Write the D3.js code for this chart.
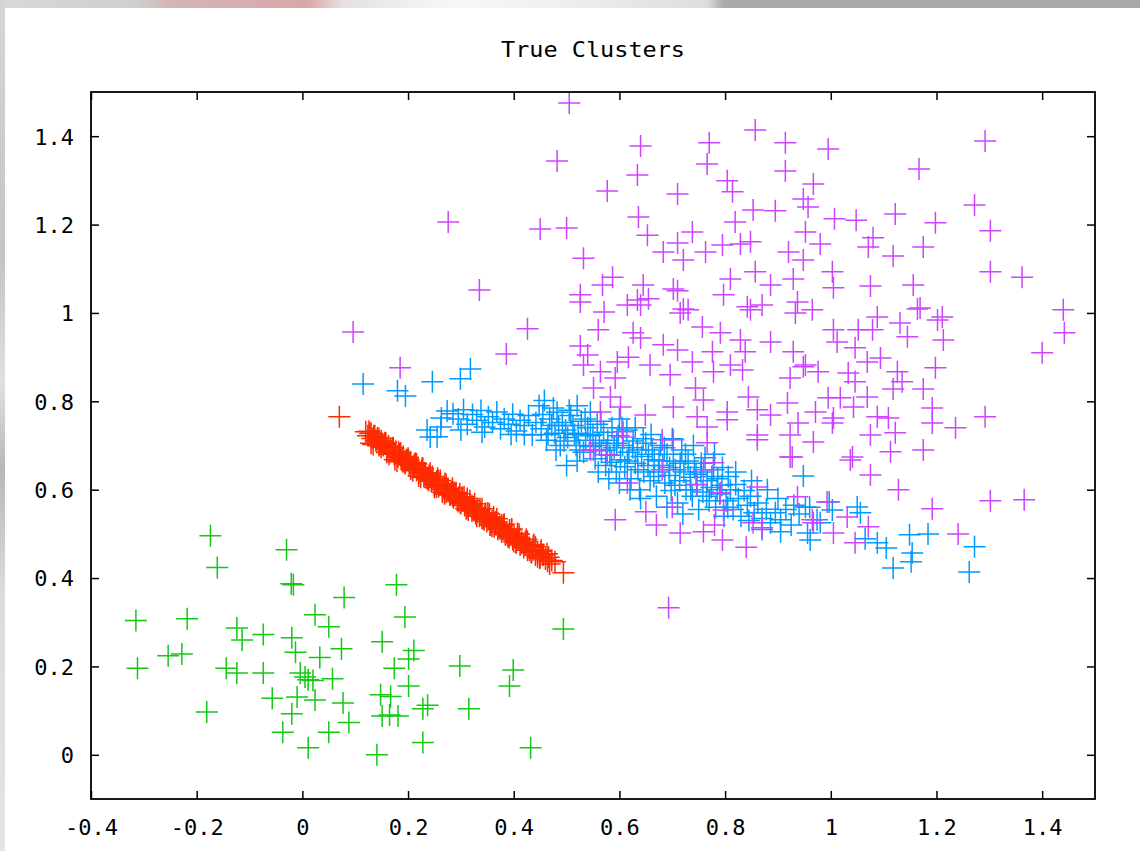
<!DOCTYPE html>
<html><head><meta charset="utf-8">
<script src="https://cdn.jsdelivr.net/npm/d3@7"></script>
<style>body{margin:0;background:#fff;overflow:hidden} svg{display:block}</style>
</head><body>
<svg id="c" width="1140" height="851"></svg>
<script>
const titleText = "True Clusters";
const xTicks = [-0.4,-0.2,0,0.2,0.4,0.6,0.8,1,1.2,1.4];
const yTicks = [0,0.2,0.4,0.6,0.8,1,1.2,1.4];
const clusterColors = ["#14c814","#ff2a00","#0099ff","#cc44ff"];

// cluster 1 (green)
const cluster1 = [[-0.174,0.496],[-0.030,0.464],[-0.161,0.424],[-0.021,0.387],[-0.017,0.385],[0.178,0.385],[0.079,0.356],[-0.315,0.304],[-0.218,0.308],[0.024,0.317],[0.050,0.290],[0.194,0.312],[-0.124,0.287],[-0.114,0.260],[-0.074,0.272],[-0.020,0.265],[-0.013,0.232],[0.033,0.220],[0.074,0.240],[0.151,0.256],[0.211,0.236],[0.201,0.217],[-0.254,0.224],[-0.228,0.228],[-0.312,0.196],[-0.144,0.196],[-0.124,0.185],[-0.074,0.185],[-0.004,0.185],[0.011,0.170],[0.057,0.172],[0.174,0.196],[0.298,0.201],[0.399,0.192],[0.392,0.156],[0.201,0.156],[-0.057,0.128],[-0.010,0.131],[0.024,0.124],[0.077,0.117],[0.148,0.136],[0.167,0.132],[0.228,0.104],[0.237,0.112],[0.315,0.104],[-0.181,0.097],[-0.020,0.093],[0.151,0.088],[0.165,0.090],[0.181,0.088],[0.088,0.073],[-0.037,0.051],[0.050,0.051],[0.228,0.028],[0.011,0.016],[0.141,0.000],[0.432,0.016],[0.494,0.285],[0.005,0.176],[0.020,0.168]];

// cluster 2 (red)
const cluster2 = [[0.070,0.765],[0.120,0.731],[0.124,0.722],[0.128,0.727],[0.132,0.716],[0.135,0.722],[0.139,0.711],[0.142,0.717],[0.146,0.706],[0.149,0.711],[0.153,0.700],[0.156,0.706],[0.160,0.693],[0.163,0.699],[0.167,0.686],[0.170,0.693],[0.174,0.680],[0.177,0.687],[0.181,0.674],[0.184,0.681],[0.188,0.668],[0.191,0.675],[0.195,0.662],[0.198,0.668],[0.202,0.656],[0.205,0.662],[0.209,0.650],[0.212,0.655],[0.216,0.644],[0.219,0.650],[0.223,0.637],[0.226,0.644],[0.230,0.631],[0.233,0.638],[0.237,0.625],[0.240,0.632],[0.244,0.619],[0.247,0.625],[0.251,0.613],[0.254,0.619],[0.258,0.607],[0.261,0.613],[0.265,0.600],[0.268,0.607],[0.272,0.594],[0.275,0.601],[0.279,0.588],[0.282,0.595],[0.286,0.582],[0.289,0.589],[0.293,0.576],[0.296,0.583],[0.300,0.570],[0.303,0.577],[0.307,0.564],[0.310,0.571],[0.314,0.558],[0.317,0.565],[0.321,0.552],[0.324,0.559],[0.328,0.546],[0.331,0.553],[0.335,0.540],[0.338,0.547],[0.342,0.534],[0.345,0.541],[0.349,0.528],[0.352,0.535],[0.356,0.522],[0.359,0.529],[0.363,0.516],[0.366,0.523],[0.370,0.510],[0.373,0.517],[0.377,0.504],[0.380,0.511],[0.384,0.498],[0.387,0.505],[0.391,0.492],[0.394,0.499],[0.398,0.487],[0.401,0.493],[0.405,0.481],[0.408,0.487],[0.412,0.475],[0.415,0.481],[0.419,0.469],[0.422,0.475],[0.426,0.463],[0.429,0.469],[0.433,0.458],[0.437,0.464],[0.441,0.452],[0.445,0.458],[0.450,0.447],[0.455,0.452],[0.460,0.443],[0.466,0.447],[0.472,0.440],[0.478,0.437],[0.468,0.432],[0.494,0.412],[0.130,0.728],[0.145,0.716],[0.158,0.705],[0.172,0.694],[0.186,0.683],[0.200,0.671],[0.214,0.660],[0.228,0.648],[0.242,0.637],[0.256,0.626],[0.270,0.614],[0.284,0.603],[0.298,0.591],[0.312,0.580],[0.326,0.568],[0.340,0.557],[0.354,0.545],[0.368,0.534],[0.382,0.522],[0.396,0.511],[0.410,0.499],[0.424,0.488],[0.438,0.476],[0.452,0.463],[0.463,0.455],[0.250,0.605],[0.330,0.540],[0.390,0.494],
[0.126,0.732],[0.134,0.702],[0.141,0.711],[0.149,0.696],[0.156,0.704],[0.164,0.680],[0.171,0.695],[0.179,0.665],[0.186,0.675],[0.194,0.659],[0.201,0.667],[0.209,0.643],[0.216,0.658],[0.224,0.628],[0.231,0.638],[0.239,0.622],[0.246,0.630],[0.254,0.606],[0.261,0.621],[0.269,0.591],[0.276,0.601],[0.284,0.586],[0.291,0.593],[0.299,0.569],[0.306,0.584],[0.314,0.554],[0.321,0.564],[0.329,0.549],[0.336,0.557],[0.344,0.532],[0.351,0.547],[0.359,0.517],[0.366,0.527],[0.374,0.512],[0.381,0.520],[0.389,0.495],[0.396,0.510],[0.404,0.480],[0.411,0.490],[0.419,0.475],[0.426,0.483],[0.434,0.459],[0.441,0.471],[0.449,0.445],[0.456,0.453],[0.464,0.438],
[0.130,0.705],[0.137,0.722],[0.145,0.700],[0.152,0.704],[0.160,0.684],[0.167,0.694],[0.175,0.668],[0.182,0.686],[0.190,0.663],[0.197,0.667],[0.205,0.647],[0.212,0.657],[0.220,0.631],[0.227,0.649],[0.235,0.627],[0.242,0.630],[0.250,0.610],[0.257,0.620],[0.265,0.594],[0.272,0.612],[0.280,0.590],[0.287,0.594],[0.295,0.573],[0.302,0.583],[0.310,0.557],[0.317,0.575],[0.325,0.553],[0.332,0.557],[0.340,0.536],[0.347,0.546],[0.355,0.520],[0.362,0.538],[0.370,0.516],[0.377,0.520],[0.385,0.500],[0.392,0.509],[0.400,0.483],[0.407,0.501],[0.415,0.479],[0.422,0.483],[0.430,0.463],[0.437,0.473],[0.445,0.448],[0.452,0.460]];

// cluster 3 (blue)
const cluster3 = [[0.115,0.839],[0.180,0.824],[0.195,0.812],[0.246,0.844],[0.299,0.851],[0.318,0.873],[0.242,0.719],[0.236,0.735],[0.263,0.762],[0.274,0.778],[0.262,0.742],
[0.285,0.772],[0.295,0.760],[0.305,0.781],[0.312,0.748],[0.322,0.770],[0.330,0.757],[0.338,0.779],[0.345,0.742],[0.352,0.765],[0.360,0.752],[0.368,0.776],[0.375,0.738],[0.382,0.760],[0.390,0.748],[0.398,0.771],[0.405,0.733],[0.412,0.757],[0.420,0.745],[0.428,0.768],[0.435,0.724],[0.442,0.752],[0.448,0.790],[0.452,0.738],[0.458,0.802],[0.462,0.712],[0.468,0.760],[0.472,0.745],[0.478,0.728],[0.482,0.775],[0.488,0.700],[0.492,0.752],[0.498,0.735],[0.502,0.718],[0.508,0.768],[0.512,0.745],[0.518,0.700],[0.522,0.728],[0.528,0.755],[0.532,0.685],[0.536,0.712],[0.540,0.740],[0.545,0.698],[0.550,0.725],[0.554,0.670],[0.558,0.748],[0.562,0.705],[0.566,0.688],[0.570,0.730],[0.574,0.655],[0.578,0.712],[0.582,0.678],[0.586,0.740],[0.590,0.695],[0.594,0.640],[0.598,0.722],[0.602,0.668],[0.606,0.700],[0.610,0.652],[0.614,0.735],[0.618,0.685],[0.622,0.625],[0.626,0.710],[0.630,0.660],[0.634,0.690],[0.638,0.600],[0.642,0.675],[0.646,0.640],[0.650,0.705],[0.654,0.655],[0.658,0.620],[0.662,0.690],[0.666,0.668],[0.670,0.585],[0.674,0.640],[0.678,0.700],[0.682,0.655],[0.686,0.615],[0.690,0.680],[0.694,0.632],[0.698,0.598],[0.702,0.665],[0.706,0.645],[0.710,0.570],[0.714,0.620],[0.718,0.690],[0.722,0.640],[0.726,0.600],[0.730,0.665],[0.734,0.628],[0.738,0.585],[0.742,0.650],[0.746,0.612],[0.750,0.555],[0.754,0.640],[0.758,0.595],[0.762,0.672],[0.766,0.620],[0.770,0.575],[0.774,0.605],[0.778,0.645],[0.782,0.560],[0.786,0.625],[0.790,0.590],[0.794,0.610],[0.798,0.540],[0.802,0.575],[0.806,0.630],[0.810,0.600],[0.815,0.555],[0.820,0.612],[0.825,0.580],[0.830,0.540],[0.836,0.598],[0.842,0.565],[0.848,0.585],[0.855,0.548],[0.862,0.570],[0.870,0.535],[0.878,0.556],[0.886,0.525],[0.895,0.548],[0.905,0.532],[0.915,0.555],[0.925,0.520],
[0.455,0.770],[0.465,0.725],[0.475,0.785],[0.485,0.745],[0.495,0.710],[0.505,0.780],[0.515,0.725],[0.525,0.690],[0.535,0.760],[0.545,0.722],[0.555,0.700],[0.565,0.755],[0.575,0.690],[0.585,0.662],[0.595,0.705],[0.605,0.740],[0.615,0.665],[0.625,0.695],[0.635,0.645],[0.645,0.715],[0.655,0.680],[0.665,0.630],[0.675,0.665],[0.685,0.695],[0.695,0.650],[0.705,0.610],[0.715,0.660],[0.725,0.680],[0.735,0.600],[0.745,0.635],[0.755,0.660],[0.765,0.585],[0.775,0.630],[0.785,0.600],[0.795,0.650],[0.805,0.560],[0.560,0.640],[0.600,0.615],[0.640,0.580],[0.580,0.625],[0.620,0.600],[0.690,0.560],[0.720,0.545],[0.520,0.665],[0.500,0.655],[0.480,0.690],[0.420,0.725],[0.395,0.725],[0.340,0.730],[0.300,0.735],[0.255,0.720],[0.545,0.775],[0.520,0.790],[0.600,0.760],[0.630,0.740],[0.660,0.725],[0.700,0.715],[0.740,0.700],[0.780,0.680],[0.820,0.640],[0.850,0.620],
[0.948,0.631],[0.952,0.561],[0.997,0.572],[1.003,0.554],[1.050,0.561],[1.056,0.548],[0.961,0.486],[1.065,0.489],[1.088,0.480],[1.105,0.468],[1.149,0.498],[1.184,0.500],[1.154,0.457],[1.152,0.437],[1.118,0.423],[1.272,0.471],[1.262,0.414],[0.974,0.532],[0.956,0.502],[0.980,0.525],[0.880,0.600],[0.900,0.580],[0.930,0.565],[0.940,0.545],[0.960,0.560],[0.870,0.510],[0.905,0.505],[0.845,0.530]];

// cluster 4 (magenta)
const cluster4 = [[0.505,1.475],[0.482,1.344],[0.276,1.206],[0.335,1.052],[0.096,0.957],[0.185,0.876],[0.386,0.907],[0.426,0.964],[0.450,1.190],[0.500,1.192],[0.532,1.124],[0.577,1.276],[0.634,1.312],[0.640,1.378],[0.693,0.333],
[0.770,1.385],[0.766,1.337],[0.857,1.414],[0.914,1.385],[0.914,1.321],[0.804,1.299],[0.814,1.274],[0.710,1.269],[0.636,1.217],[0.653,1.176],[0.853,1.233],[0.895,1.231],[0.819,1.206],[0.948,1.258],[0.957,1.240],[0.967,1.292],[0.952,1.183],[0.738,1.183],[0.710,1.158],[0.683,1.138],[0.721,1.120],[0.763,1.138],[0.795,1.154],[0.829,1.156],[0.848,1.161],[0.810,1.077],[0.857,1.093],[0.886,1.063],[0.920,1.138],[0.929,1.077],[0.948,1.120],[0.587,1.081],[0.568,1.063],[0.526,1.041],[0.645,1.063],[0.655,1.032],[0.634,1.029],[0.615,1.018],[0.702,1.054],[0.710,1.050],[0.797,1.041],[0.721,1.009],[0.842,1.014],[0.870,1.018],[0.937,1.025],
[0.995,1.371],[1.007,1.213],[1.048,1.210],[1.122,1.224],[1.167,1.326],[1.292,1.389],[1.272,1.244],[1.198,1.204],[1.302,1.186],[1.080,1.170],[1.071,1.149],[1.118,1.129],[1.175,1.149],[0.980,1.156],[1.302,1.093],[1.362,1.081],[1.075,1.061],[1.156,1.063],[1.003,1.093],[1.005,1.057],[1.440,1.007],[1.164,1.009],
[0.965,1.007],[1.005,0.962],[1.012,0.934],[1.052,0.962],[1.079,0.962],[1.088,0.991],[1.131,0.977],[1.145,0.946],[1.169,1.011],[1.202,0.984],[1.211,0.991],[1.213,0.939],[1.046,0.921],[1.094,0.898],[1.069,0.889],[0.976,0.867],[0.952,0.882],[1.033,0.864],[1.046,0.844],[1.126,0.867],[1.135,0.844],[1.198,0.876],[1.118,0.828],[1.175,0.828],[0.995,0.808],[1.018,0.808],[1.069,0.810],[1.043,0.787],[0.971,0.776],[1.005,0.762],[1.003,0.751],[1.088,0.765],[1.109,0.762],[1.192,0.785],[1.192,0.751],[1.236,0.740],[1.292,0.765],[1.122,0.729],[1.075,0.724],[0.967,0.708],[1.175,0.690],[1.113,0.686],[1.041,0.674],[1.442,0.955],[1.400,0.910],
[1.037,0.667],[1.075,0.633],[1.128,0.600],[1.192,0.557],[1.302,0.575],[1.241,0.500],[0.993,0.572],[1.031,0.538],[1.071,0.516],[1.005,0.502],[0.967,0.525],[1.046,0.480],[1.366,0.577],
[0.526,1.025],[0.640,1.018],[0.715,1.000],[0.730,1.007],[0.757,0.968],[0.791,0.955],[0.848,1.007],[0.933,1.000],[0.626,0.955],[0.640,0.943],[0.683,0.928],[0.710,0.916],[0.738,0.889],[0.776,0.912],[0.829,0.939],[0.838,0.912],[0.886,0.934],[0.929,0.912],[0.948,0.878],[0.532,0.882],[0.564,0.867],[0.596,0.889],[0.617,0.900],[0.658,0.882],[0.696,0.860],[0.778,0.867],[0.810,0.882],[0.833,0.871],[0.923,0.853],[0.551,0.830],[0.592,0.853],[0.602,0.787],[0.583,0.810],[0.564,0.776],[0.649,0.769],[0.702,0.787],[0.744,0.830],[0.759,0.803],[0.804,0.776],[0.844,0.810],[0.861,0.781],[0.886,0.769],[0.918,0.796],[0.938,0.751],[0.861,0.713],[0.747,0.765],[0.766,0.706],[0.681,0.713],[0.607,0.719],[0.551,0.690],[0.923,0.674],
[0.545,0.690],[0.577,0.679],[0.607,0.731],[0.615,0.615],[0.681,0.645],[0.702,0.713],[0.759,0.645],[0.747,0.611],[0.766,0.742],[0.778,0.661],[0.791,0.593],[0.804,0.758],[0.861,0.724],[0.861,0.606],[0.870,0.514],[0.923,0.724],[0.927,0.674],[0.937,0.584],[0.592,0.532],[0.715,0.502],[0.759,0.505],[0.795,0.486],[0.797,0.554],[0.853,0.525],[0.965,0.532],
[0.526,0.925],[0.540,0.905],[0.571,1.002],[0.560,0.962],[0.840,0.470],[0.780,0.520],[0.650,0.550],[0.700,0.560],[0.670,0.520]];

const clusters = [cluster1, cluster2, cluster3, cluster4];

const W = 1140, H = 851;
const svg = d3.select("#c");

// backdrop (window edge seen in the screenshot)
const defs = svg.append("defs");
const gTop = defs.append("linearGradient").attr("id","gTop").attr("x1","0").attr("x2","1").attr("y1","0").attr("y2","0");
[[0,"#d8d8d8"],[0.12,"#cfcfcf"],[0.15,"#d4b4b4"],[0.27,"#d9a8a8"],[0.3,"#e6e0e0"],[0.4,"#f8f8f8"],[0.5,"#eeeeee"],[0.62,"#dddddd"],[0.635,"#a9a9a9"],[1,"#a9a9a9"]]
  .forEach(s => gTop.append("stop").attr("offset", s[0]).attr("stop-color", s[1]));
const gLeft = defs.append("linearGradient").attr("id","gLeft").attr("x1","0").attr("x2","0").attr("y1","0").attr("y2","1");
[[0,"#d6d6d6"],[0.3,"#c4c4c4"],[0.45,"#e0e0e0"],[0.55,"#b8b8b8"],[0.7,"#dcdcdc"],[1,"#e4e4e4"]]
  .forEach(s => gLeft.append("stop").attr("offset", s[0]).attr("stop-color", s[1]));
svg.append("rect").attr("width", W).attr("height", H).attr("fill", "#fff");
svg.append("rect").attr("x",0).attr("y",0).attr("width",W).attr("height",8).attr("fill","url(#gTop)");
svg.append("rect").attr("x",0).attr("y",0).attr("width",5).attr("height",H).attr("fill","url(#gLeft)");

const x = d3.scaleLinear().domain([-0.4, 1.5]).range([91, 1095]);
const y = d3.scaleLinear().domain([-0.1, 1.5]).range([799, 92]);

const font = "'DejaVu Sans Mono', monospace";

// title
svg.append("text").attr("x", 593).attr("y", 57).attr("text-anchor","middle")
  .attr("font-family", font).attr("font-size", 22).attr("fill","#000")
  .attr("textLength", 184).attr("lengthAdjust","spacingAndGlyphs")
  .text(titleText);

// points
const plus = "M-11,0H11M0,-11V11";
clusters.forEach((pts, i) => {
  svg.append("g").attr("class","series")
    .selectAll("path").data(pts).join("path")
    .attr("transform", d => `translate(${x(d[0])},${y(d[1])})`)
    .attr("d", plus)
    .attr("fill","none").attr("stroke", clusterColors[i]).attr("stroke-width", 1.5);
});

// axes
const fmt = d => String(d);
const gx = svg.append("g").attr("transform", `translate(0,799)`)
  .call(d3.axisBottom(x).tickValues(xTicks).tickFormat(fmt).tickSizeInner(-8).tickSizeOuter(0).tickPadding(20));
const gxt = svg.append("g").attr("transform", `translate(0,92)`)
  .call(d3.axisTop(x).tickValues(xTicks).tickFormat("").tickSizeInner(-8).tickSizeOuter(0));
const gy = svg.append("g").attr("transform", `translate(91,0)`)
  .call(d3.axisLeft(y).tickValues(yTicks).tickFormat(fmt).tickSizeInner(-8).tickSizeOuter(0).tickPadding(17));
const gyr = svg.append("g").attr("transform", `translate(1095,0)`)
  .call(d3.axisRight(y).tickValues(yTicks).tickFormat("").tickSizeInner(-8).tickSizeOuter(0));
[gx,gxt,gy,gyr].forEach(g => {
  g.select(".domain").remove();
  g.selectAll(".tick line").attr("stroke","#000").attr("stroke-width",1.5);
  g.selectAll("text").attr("font-family", font).attr("font-size", 22).attr("fill","#000");
});
gy.selectAll("text").attr("dy","0.36em");

// frame
svg.append("rect").attr("x", x(-0.4)).attr("y", y(1.5))
  .attr("width", x(1.5)-x(-0.4)).attr("height", y(-0.1)-y(1.5))
  .attr("fill","none").attr("stroke","#000").attr("stroke-width",1.8);
</script>
</body></html>
